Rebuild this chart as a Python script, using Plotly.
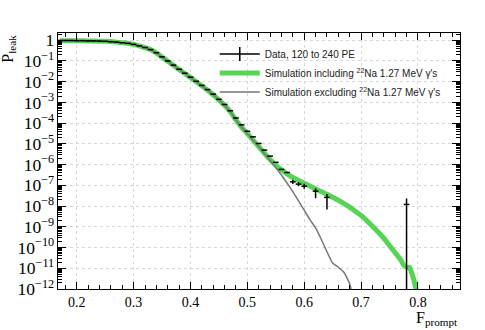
import plotly.graph_objects as go
import numpy as np

# F_prompt bin centres and log10(P_leak)
data_f = [0.17, 0.18, 0.19, 0.20, 0.21, 0.22, 0.23, 0.24, 0.25, 0.26,
          0.27, 0.28, 0.29, 0.30, 0.31, 0.32, 0.33, 0.34, 0.35, 0.36,
          0.37, 0.38, 0.39, 0.40, 0.41, 0.42, 0.43, 0.44, 0.45, 0.46,
          0.47, 0.48, 0.49, 0.50, 0.51, 0.52, 0.53, 0.54, 0.55, 0.56,
          0.57, 0.58, 0.59, 0.60, 0.62, 0.64, 0.78]
data_log = [-0.01, -0.01, -0.01, -0.02, -0.02, -0.03, -0.03, -0.04, -0.05, -0.07,
            -0.09, -0.12, -0.15, -0.20, -0.27, -0.35, -0.45, -0.60, -0.80, -1.00,
            -1.20, -1.40, -1.59, -1.78, -1.98, -2.18, -2.38, -2.60, -2.85, -3.10,
            -3.40, -3.75, -4.08, -4.39, -4.66, -4.98, -5.30, -5.59, -5.89, -6.23,
            -6.38, -6.83, -6.94, -7.04, -7.28, -7.58, -7.92]
# error bar extents in decades (up / down)
data_err_up = [0] * 41 + [0.10, 0.10, 0.12, 0.14, 0.16, 0.29]
data_err_dn = [0] * 41 + [0.10, 0.10, 0.12, 0.34, 0.58, 5.0]

sim_incl_f = [0.17, 0.20, 0.22, 0.25, 0.27, 0.28, 0.29, 0.30, 0.31, 0.32,
              0.33, 0.34, 0.35, 0.36, 0.37, 0.38, 0.39, 0.40, 0.41, 0.42,
              0.43, 0.44, 0.45, 0.46, 0.47, 0.48, 0.49, 0.50, 0.51, 0.52,
              0.53, 0.54, 0.55, 0.56, 0.57, 0.58, 0.59, 0.60, 0.61, 0.62,
              0.63, 0.64, 0.65, 0.66, 0.67, 0.68, 0.69, 0.70, 0.71, 0.72,
              0.73, 0.74, 0.75, 0.76, 0.77, 0.775, 0.78, 0.785, 0.79, 0.795, 0.80]
sim_incl_log = [-0.02, -0.02, -0.03, -0.05, -0.09, -0.12, -0.15, -0.20, -0.27, -0.36,
                -0.46, -0.61, -0.81, -1.01, -1.21, -1.41, -1.60, -1.80, -2.00, -2.20,
                -2.41, -2.63, -2.88, -3.14, -3.45, -3.85, -4.20, -4.50, -4.82, -5.13,
                -5.45, -5.75, -6.02, -6.25, -6.45, -6.62, -6.77, -6.90, -7.03, -7.17,
                -7.30, -7.43, -7.57, -7.72, -7.88, -8.05, -8.25, -8.45, -8.70, -8.97,
                -9.25, -9.55, -9.90, -10.25, -10.60, -10.85, -10.95, -10.95, -11.30, -11.80, -12.50]

sim_excl_f = [0.17, 0.20, 0.22, 0.25, 0.27, 0.28, 0.29, 0.30, 0.31, 0.32,
              0.33, 0.34, 0.35, 0.36, 0.37, 0.38, 0.39, 0.40, 0.41, 0.42,
              0.43, 0.44, 0.45, 0.46, 0.47, 0.48, 0.49, 0.50, 0.51, 0.52,
              0.53, 0.54, 0.55, 0.56, 0.57, 0.58, 0.59, 0.60, 0.61, 0.62,
              0.63, 0.64, 0.65, 0.66, 0.67, 0.675, 0.68, 0.685]
sim_excl_log = [-0.02, -0.02, -0.03, -0.05, -0.09, -0.12, -0.15, -0.20, -0.27, -0.36,
                -0.46, -0.61, -0.81, -1.01, -1.21, -1.41, -1.60, -1.80, -2.00, -2.20,
                -2.41, -2.63, -2.88, -3.14, -3.45, -3.85, -4.20, -4.50, -4.82, -5.13,
                -5.47, -5.80, -6.15, -6.50, -6.90, -7.30, -7.75, -8.20, -8.65, -9.05,
                -9.60, -10.20, -10.75, -10.95, -11.20, -11.45, -11.75, -12.30]

GREEN = "#55d455"
GRAY = "#777777"
SERIF = "Liberation Serif, Times New Roman, serif"
SANS = "Liberation Sans, Arial, sans-serif"

data_p = 10 ** np.array(data_log)
err_up = 10 ** (np.array(data_log) + np.array(data_err_up)) - data_p
err_dn = data_p - 10 ** (np.array(data_log) - np.array(data_err_dn))

fig = go.Figure()

fig.add_trace(go.Scatter(
    x=sim_incl_f, y=10 ** np.array(sim_incl_log),
    mode="lines", line=dict(color=GREEN, width=5, shape="spline", smoothing=0.6),
    showlegend=False,
))
fig.add_trace(go.Scatter(
    x=sim_excl_f, y=10 ** np.array(sim_excl_log),
    mode="lines", line=dict(color=GRAY, width=1.5, shape="spline", smoothing=0.4),
    showlegend=False,
))
fig.add_trace(go.Scatter(
    x=data_f, y=data_p,
    mode="markers", marker=dict(size=1, color="black"),
    error_x=dict(type="constant", value=0.005, width=0, thickness=1.5, color="black"),
    error_y=dict(type="data", array=err_up, arrayminus=err_dn, symmetric=False,
                 width=0, thickness=1.5, color="black"),
    showlegend=False,
))

# legend-only entries
fig.add_trace(go.Scatter(
    x=[None], y=[None], mode="lines+markers",
    line=dict(color="black", width=1.5),
    marker=dict(symbol="line-ns", size=10, line=dict(color="black", width=1.5)),
    name="Data, 120 to 240 PE",
))
fig.add_trace(go.Scatter(
    x=[None], y=[None], mode="lines", line=dict(color=GREEN, width=5),
    name="Simulation including <sup>22</sup>Na 1.27 MeV γ's",
))
fig.add_trace(go.Scatter(
    x=[None], y=[None], mode="lines", line=dict(color=GRAY, width=1.5),
    name="Simulation excluding <sup>22</sup>Na 1.27 MeV γ's",
))

fig.add_annotation(
    text="P<sub>leak</sub>", xref="paper", yref="paper", x=-0.125, y=1.0,
    xanchor="center", yanchor="top", textangle=-90, showarrow=False,
    font=dict(family=SERIF, size=16, color="black"),
)
fig.add_annotation(
    text="F<sub>prompt</sub>", xref="paper", yref="paper", x=1.0, y=-0.07,
    xanchor="right", yanchor="top", showarrow=False,
    font=dict(family=SERIF, size=16, color="black"),
)

fig.update_layout(
    width=485, height=330,
    margin=dict(l=58, r=25, t=33, b=41),
    paper_bgcolor="white", plot_bgcolor="white",
    font=dict(family=SERIF, size=14, color="black"),
    legend=dict(
        x=0.39, y=0.975, xanchor="left", yanchor="top",
        bgcolor="rgba(0,0,0,0)", borderwidth=0,
        font=dict(family=SANS, size=10, color="#222"),
        tracegroupgap=0, itemwidth=40,
    ),
    xaxis=dict(
        range=[0.167, 0.874], tick0=0.2, dtick=0.1, automargin=False,
        ticks="inside", ticklen=7, tickcolor="black",
        showline=True, linecolor="black", linewidth=1, mirror="allticks",
        showgrid=True, gridcolor="#d8d8d8", griddash="dot", gridwidth=1,
        zeroline=False,
        minor=dict(ticks="inside", dtick=0.02, tick0=0.2, ticklen=4, tickcolor="black", showgrid=False),
        tickfont=dict(family=SERIF, size=14),
    ),
    yaxis=dict(
        type="log", range=[-12, 0.35], dtick=1, automargin=False,
        exponentformat="power",
        ticks="inside", ticklen=8, tickcolor="black",
        showline=True, linecolor="black", linewidth=1, mirror="allticks",
        showgrid=True, gridcolor="#d8d8d8", griddash="dot", gridwidth=1,
        zeroline=False,
        minor=dict(ticks="inside", dtick="D1", ticklen=4, tickcolor="black", showgrid=False),
        tickfont=dict(family=SERIF, size=14),
    ),
)

fig.write_html("out.html", config={"displayModeBar": False},
               post_script="document.body.style.margin='0';")
